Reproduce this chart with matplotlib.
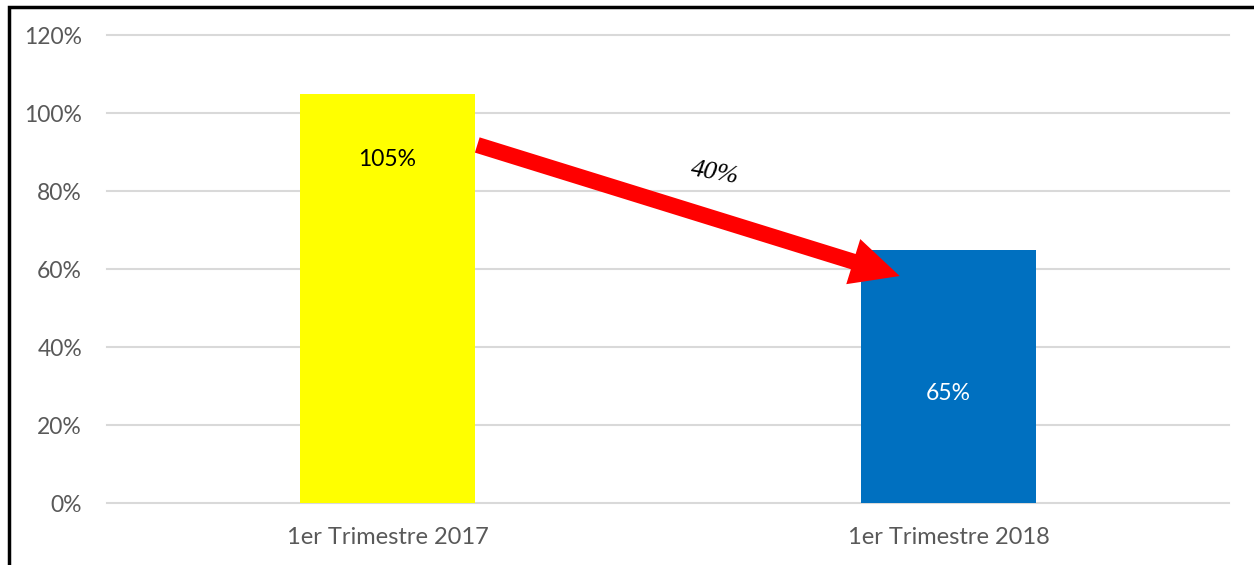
import matplotlib.pyplot as plt
from matplotlib.patches import Rectangle

# quarterly ratio, first quarter of each year
periods = ["1er Trimestre 2017", "1er Trimestre 2018"]
ratios = [1.05, 0.65]
bar_colors = ["#FFFF00", "#0070C0"]
label_colors = ["#000000", "#FFFFFF"]
y_ticks = [0, 0.2, 0.4, 0.6, 0.8, 1.0, 1.2]

plt.rcParams["font.family"] = ["Lato", "DejaVu Sans"]

fig = plt.figure(figsize=(12.54, 5.65), dpi=100)
ax = fig.add_axes([107 / 1254, 1 - 503 / 565, 1122 / 1254, 468 / 565])

x = list(range(len(periods)))
width = 0.312
ax.bar(x, ratios, width=width, color=bar_colors, zorder=2)

# value labels inside the bars
label_drop = [0.168, 0.37]
for i, v in enumerate(ratios):
    ax.text(i, v - label_drop[i], f"{v:.0%}", ha="center", va="center",
            fontsize=16.5, color=label_colors[i], zorder=3)

# red arrow from the first bar down to the second
start = (x[0] + width / 2 + 0.004, ratios[0] - 0.132)
end = (x[1] - width / 2 + 0.069, ratios[1] - 0.068)
ax.annotate("", xy=end, xytext=start,
            arrowprops=dict(arrowstyle="simple,head_length=35,head_width=34,tail_width=11.5",
                            mutation_scale=1, color="#FF0000", lw=0,
                            shrinkA=0, shrinkB=0),
            zorder=4)
drop = ratios[0] - ratios[1]
mid = ((start[0] + end[0]) / 2, (start[1] + end[1]) / 2)
ax.annotate(f"{drop:.0%}", xy=mid, xytext=(19, 27), textcoords="offset points",
            ha="center", va="center", fontsize=19, style="italic",
            family="Liberation Serif", rotation=-10, color="#000000")

ax.set_xlim(-0.5, 1.5)
ax.set_ylim(0, 1.2)
ax.set_yticks(y_ticks)
ax.set_yticklabels([f"{t:.0%}" for t in y_ticks])
ax.set_xticks(x)
ax.set_xticklabels(periods)
ax.tick_params(axis="both", length=0, labelcolor="#595959")
ax.tick_params(axis="y", pad=18, labelsize=16.5)
ax.tick_params(axis="x", pad=17, labelsize=17)
ax.grid(axis="y", color="#D9D9D9", lw=1.5, zorder=0)
for gl in ax.get_ygridlines():
    gl.set_clip_on(False)
for s in ax.spines.values():
    s.set_visible(False)

# black frame around the chart, running off the right and bottom edges
fig.patches.append(Rectangle((8.5 / 1254, -0.1), 1.2, 1.1 - 7 / 565,
                             transform=fig.transFigure, fill=False,
                             edgecolor="#000000", lw=2.5))

fig.savefig("out.png", dpi=100)
